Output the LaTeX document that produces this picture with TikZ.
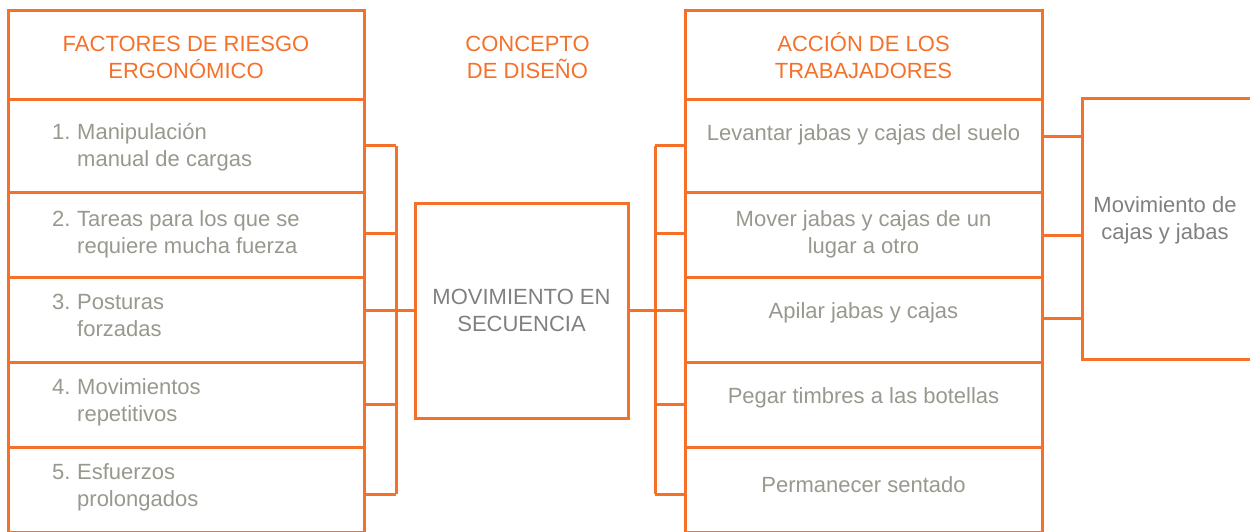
\documentclass[tikz,border=0pt]{standalone}
\usepackage{fontspec}
\setmainfont{Liberation Sans}
\usetikzlibrary{positioning}
\definecolor{riesgo orange}{RGB}{245,112,40}
\definecolor{item gray}{RGB}{152,152,142}
\definecolor{box gray}{RGB}{128,128,128}
\tikzset{
  cell/.style={draw=riesgo orange, line width=3pt, outer sep=0pt, inner sep=0pt,
    minimum width=356pt, minimum height=85pt},
  link/.style={draw=riesgo orange, line width=3pt},
  headtext/.style={text=riesgo orange, align=center, anchor=base, inner sep=0pt},
  itemtext/.style={text=item gray, align=left, anchor=base west, inner sep=0pt},
  rowtext/.style={text=item gray, align=center, anchor=base, inner sep=0pt},
  boxtext/.style={text=box gray, align=center, anchor=base, inner sep=0pt}
}

\begin{document}
\begin{tikzpicture}[x=1pt, y=-1pt, font=\fontsize{22}{27}\selectfont]
  \useasboundingbox (0,0) rectangle (1250,532);
  % left table: risk factors
  \begin{scope}
    \node[cell, minimum height=89pt] (fh) at (186,55.5) {};
    \node[cell, minimum height=92pt, below=0pt of fh] (f1) {};
    \node[cell, below=0pt of f1] (f2) {};
    \node[cell, below=0pt of f2] (f3) {};
    \node[cell, below=0pt of f3] (f4) {};
    \node[cell, below=0pt of f4] (f5) {};
    \node[headtext] (fht) at (186,79) {FACTORES DE RIESGO\\ERGONÓMICO};
    \node[itemtext] (f1t) at (52,166) {\makebox[25pt][l]{1.}Manipulación\\\hspace*{25pt}manual de cargas};
    \node[itemtext] (f2t) at (52,253) {\makebox[25pt][l]{2.}Tareas para los que se\\\hspace*{25pt}requiere mucha fuerza};
    \node[itemtext] (f3t) at (52,336) {\makebox[25pt][l]{3.}Posturas\\\hspace*{25pt}forzadas};
    \node[itemtext] (f4t) at (52,421) {\makebox[25pt][l]{4.}Movimientos\\\hspace*{25pt}repetitivos};
    \node[itemtext] (f5t) at (52,506) {\makebox[25pt][l]{5.}Esfuerzos\\\hspace*{25pt}prolongados};
  \end{scope}
  % middle: design concept
  \begin{scope}
    \node[headtext] (cdt) at (527.5,79) {CONCEPTO\\DE DISEÑO};
    \node[cell, minimum width=213pt, minimum height=215pt] (md) at (521.5,310.5) {};
    \node[boxtext] (mdt) at (521.5,331) {MOVIMIENTO EN\\SECUENCIA};
  \end{scope}
  % right table: workers' actions
  \begin{scope}
    \node[cell, minimum width=357pt, minimum height=89pt] (ah) at (863.5,55.5) {};
    \node[cell, minimum width=357pt, minimum height=92pt, below=0pt of ah] (a1) {};
    \node[cell, minimum width=357pt, below=0pt of a1] (a2) {};
    \node[cell, minimum width=357pt, below=0pt of a2] (a3) {};
    \node[cell, minimum width=357pt, below=0pt of a3] (a4) {};
    \node[cell, minimum width=357pt, below=0pt of a4] (a5) {};
    \node[headtext] (aht) at (863.5,79) {ACCIÓN DE LOS\\TRABAJADORES};
    \node[rowtext] (a1t) at (863.5,140) {Levantar jabas y cajas del suelo};
    \node[rowtext] (a2t) at (863.5,253) {Mover jabas y cajas de un\\lugar a otro};
    \node[rowtext] (a3t) at (863.5,318) {Apilar jabas y cajas};
    \node[rowtext] (a4t) at (863.5,403) {Pegar timbres a las botellas};
    \node[rowtext] (a5t) at (863.5,492) {Permanecer sentado};
  \end{scope}
  % far right box
  \node[cell, minimum width=174pt, minimum height=260pt] (mc) at (1169,229) {};
  \node[boxtext] (mct) at (1165,239) {Movimiento de\\cajas y jabas};
  % brackets
  \coordinate (lb) at (396,310.5);
  \coordinate (rb) at (655,310.5);
  \foreach \r/\s in {f1/0, f2/1.5, f4/0.5, f5/-4.5}
    \draw[link] ([yshift=\s pt]\r.east) -- ([yshift=\s pt]\r.east -| lb);
  \foreach \r/\s in {a1/0, a2/1.5, a4/0.5, a5/-4.5}
    \draw[link] ([yshift=\s pt]\r.west) -- ([yshift=\s pt]\r.west -| rb);
  \draw[link] (f3.east |- md.west) -- (md.west);
  \draw[link] (md.east) -- (a3.west |- md.east);
  \draw[link] (f1.east -| lb) -- ([yshift=-4.5pt]f5.east -| lb);
  \draw[link] (a1.west -| rb) -- ([yshift=-4.5pt]a5.west -| rb);
  % to the far right box
  \foreach \r/\s in {a1/9, a2/-0.5, a3/1.5}
    \draw[link] ([yshift=\s pt]\r.east) -- ([yshift=\s pt]\r.east -| mc.west);
\end{tikzpicture}
\end{document}
